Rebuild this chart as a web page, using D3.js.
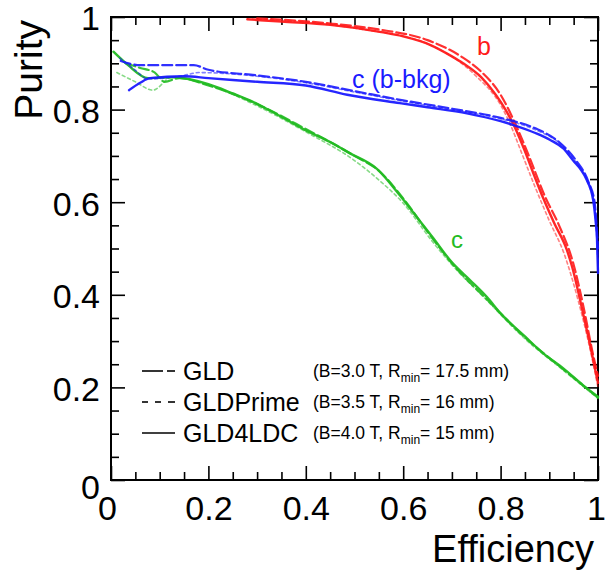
<!DOCTYPE html>
<html>
<head>
<meta charset="UTF-8">
<title>Purity vs Efficiency</title>
<style>
  body { margin: 0; background: #fff; }
  svg { display: block; font-family: "Liberation Sans", Arial, sans-serif; }
  .frame { fill: none; stroke: #000; stroke-width: 2; }
  .axis path { display: none; }
  .axis line { stroke: #000; stroke-width: 1.6; }
  .axis text { font-size: 34px; fill: #000; }
  .curve { fill: none; stroke-linejoin: round; stroke-linecap: round; }
</style>
</head>
<body>
<svg width="605" height="572"></svg>
<script src="https://d3js.org/d3.v7.min.js"></script>
<script>
// efficiency / purity pairs
const bGLD4LDC = [[0.28,0.995],[0.35,0.99],[0.45,0.983],[0.552,0.968],[0.6,0.958],[0.655,0.94],[0.7,0.915],[0.723,0.9],[0.76,0.87],[0.79,0.832],[0.81,0.8],[0.825,0.771],[0.85,0.71],[0.87,0.655],[0.887,0.61],[0.91,0.555],[0.936,0.497],[0.947,0.46],[0.963,0.39],[0.98,0.31],[0.994,0.24],[1.0,0.21]];
const bGLD = [[0.3,0.997],[0.45,0.986],[0.55,0.973],[0.65,0.95],[0.72,0.914],[0.76,0.882],[0.8,0.832],[0.83,0.77],[0.86,0.695],[0.89,0.615],[0.92,0.55],[0.95,0.465],[0.97,0.375],[0.99,0.27],[1.0,0.225]];
const bGLDPrime = [[0.29,0.996],[0.5,0.976],[0.65,0.942],[0.75,0.872],[0.8,0.81],[0.82,0.768],[0.84,0.715],[0.87,0.635],[0.9,0.56],[0.93,0.49],[0.96,0.385],[0.98,0.3],[1.0,0.2]];

const cbGLD4LDC = [[0.037,0.842],[0.06,0.858],[0.08,0.868],[0.15,0.872],[0.2,0.868],[0.3,0.86],[0.4,0.852],[0.485,0.832],[0.593,0.814],[0.65,0.805],[0.731,0.792],[0.8,0.775],[0.825,0.767],[0.87,0.75],[0.901,0.735],[0.93,0.715],[0.949,0.69],[0.965,0.67],[0.977,0.648],[0.99,0.605],[0.995,0.56],[0.998,0.52],[1.0,0.447]];
const cbGLD = [[0.02,0.905],[0.06,0.896],[0.17,0.896],[0.2,0.886],[0.3,0.874],[0.4,0.86],[0.5,0.84],[0.6,0.82],[0.7,0.802],[0.8,0.782],[0.87,0.76],[0.92,0.73],[0.955,0.69],[0.98,0.645],[0.993,0.6],[1.0,0.5]];
const cbGLDPrime = [[0.018,0.911],[0.05,0.885],[0.076,0.866],[0.15,0.874],[0.18,0.88],[0.3,0.872],[0.4,0.858],[0.5,0.838],[0.6,0.818],[0.7,0.8],[0.8,0.78],[0.87,0.757],[0.92,0.728],[0.955,0.686],[0.98,0.64],[0.993,0.59],[1.0,0.47]];

const cGLD4LDC = [[0.005,0.925],[0.035,0.896],[0.076,0.868],[0.13,0.87],[0.2,0.855],[0.25,0.835],[0.285,0.82],[0.34,0.79],[0.4,0.755],[0.45,0.73],[0.49,0.706],[0.546,0.672],[0.593,0.615],[0.63,0.565],[0.66,0.525],[0.7,0.47],[0.737,0.432],[0.772,0.395],[0.8,0.36],[0.85,0.31],[0.887,0.274],[0.93,0.24],[0.969,0.205],[1.0,0.18]];
const cGLD = [[0.03,0.9],[0.06,0.89],[0.09,0.88],[0.11,0.86],[0.14,0.868],[0.2,0.852],[0.3,0.812],[0.4,0.758],[0.5,0.7],[0.55,0.668],[0.6,0.608],[0.66,0.522],[0.7,0.468],[0.77,0.392],[0.85,0.308],[0.93,0.238],[1.0,0.178]];
const cGLDPrime = [[0.012,0.88],[0.05,0.86],[0.086,0.842],[0.125,0.87],[0.2,0.853],[0.3,0.808],[0.4,0.752],[0.5,0.69],[0.55,0.648],[0.6,0.598],[0.66,0.515],[0.7,0.465],[0.77,0.39],[0.85,0.305],[0.93,0.236],[1.0,0.176]];

const xTicks = [0, 0.2, 0.4, 0.6, 0.8, 1];
const yTicks = [0, 0.2, 0.4, 0.6, 0.8, 1];
const detectors = ["GLD", "GLDPrime", "GLD4LDC"];
const detParams = [["B=3.0 T, R", "= 17.5 mm)"], ["B=3.5 T, R", "= 16 mm)"], ["B=4.0 T, R", "= 15 mm)"]];

const svg = d3.select("svg");
const mLeft = 111, mRight = 598, mTop = 17, mBottom = 480;
const x = d3.scaleLinear().domain([0, 1]).range([mLeft, mRight]);
const y = d3.scaleLinear().domain([0, 1]).range([mBottom, mTop]);

const minor = d3.range(0, 1.0001, 0.05).filter(v => Math.abs(v * 5 - Math.round(v * 5)) > 1e-6);
const fmt = d => (d === 0 || d === 1) ? String(d) : d.toFixed(1);

// inward ticks on all four sides
function ticks(axisFn, scale, pos, vals, size, labels) {
  const a = axisFn(scale).tickValues(vals).tickSizeInner(-size).tickSizeOuter(0)
    .tickFormat(labels ? fmt : "");
  return svg.append("g").attr("class", "axis").attr("transform", pos).call(a);
}
const bx = ticks(d3.axisBottom, x, `translate(0,${mBottom})`, xTicks, 14, true);
bx.selectAll("text").attr("dy", null).attr("y", 40);
bx.selectAll(".tick").filter(d => d === 0).select("text").attr("x", -4);
bx.selectAll(".tick").filter(d => d === 1).select("text").attr("x", -2);
ticks(d3.axisBottom, x, `translate(0,${mBottom})`, minor, 8, false);
ticks(d3.axisTop, x, `translate(0,${mTop})`, xTicks, 14, false);
ticks(d3.axisTop, x, `translate(0,${mTop})`, minor, 8, false);
const ly = ticks(d3.axisLeft, y, `translate(${mLeft},0)`, yTicks, 14, true);
ly.selectAll("text").attr("x", -11).attr("dy", "0.38em");
ly.selectAll(".tick").filter(d => d === 0).select("text").attr("dy", "0.55em");
ticks(d3.axisLeft, y, `translate(${mLeft},0)`, minor, 8, false);
ticks(d3.axisRight, y, `translate(${mRight},0)`, yTicks, 14, false);
ticks(d3.axisRight, y, `translate(${mRight},0)`, minor, 8, false);

svg.append("rect").attr("class", "frame")
  .attr("x", mLeft).attr("y", mTop).attr("width", mRight - mLeft).attr("height", mBottom - mTop);

// curves
const line = d3.line().x(d => x(d[0])).y(d => y(d[1])).curve(d3.curveMonotoneX);
const styles = {
  GLD: { dash: "10,4", width: 2.2, op: 0.9 },
  GLDPrime: { dash: "3,3", width: 1.6, op: 0.55 },
  GLD4LDC: { dash: null, width: 2.4, op: 0.95 }
};
const series = [
  { data: bGLDPrime, det: "GLDPrime", color: "#ff1a1a" },
  { data: bGLD, det: "GLD", color: "#ff1a1a" },
  { data: bGLD4LDC, det: "GLD4LDC", color: "#ff1a1a" },
  { data: cGLDPrime, det: "GLDPrime", color: "#22bb22" },
  { data: cGLD, det: "GLD", color: "#22bb22" },
  { data: cGLD4LDC, det: "GLD4LDC", color: "#22bb22" },
  { data: cbGLDPrime, det: "GLDPrime", color: "#1a1aff" },
  { data: cbGLD, det: "GLD", color: "#1a1aff" },
  { data: cbGLD4LDC, det: "GLD4LDC", color: "#1a1aff" }
];
svg.selectAll("path.curve").data(series).enter().append("path")
  .attr("class", "curve")
  .attr("d", d => line(d.data))
  .attr("stroke", d => d.color)
  .attr("stroke-width", d => styles[d.det].width)
  .attr("stroke-opacity", d => styles[d.det].op)
  .attr("stroke-dasharray", d => styles[d.det].dash);

// curve labels
svg.append("text").attr("x", 477).attr("y", 55).attr("font-size", 25).attr("fill", "#ff1a1a").text("b");
svg.append("text").attr("x", 352).attr("y", 88).attr("font-size", 25).attr("fill", "#1a1aff").text("c (b-bkg)");
svg.append("text").attr("x", 451).attr("y", 248).attr("font-size", 24).attr("fill", "#22bb22").text("c");

// axis titles
svg.append("text").attr("x", 594).attr("y", 562).attr("text-anchor", "end")
  .attr("font-size", 38).text("Efficiency");
svg.append("text").attr("transform", "translate(42,20) rotate(-90)").attr("text-anchor", "end")
  .attr("font-size", 39).text("Purity");

// legend
const legendLines = [[[142, 163], [167, 175]], [[142, 148], [155, 161], [168, 175]], [[142, 175]]];
detectors.forEach((name, i) => {
  const yy = 371 + i * 31;
  legendLines[i].forEach(seg => {
    svg.append("line").attr("x1", seg[0]).attr("x2", seg[1]).attr("y1", yy).attr("y2", yy)
      .attr("stroke", "#000").attr("stroke-width", 1.6);
  });
  svg.append("text").attr("x", 183).attr("y", yy + 9).attr("font-size", 25).text(name);
  const t = svg.append("text").attr("x", 313).attr("y", yy + 6).attr("font-size", 17.5);
  t.append("tspan").text("(" + detParams[i][0]);
  t.append("tspan").attr("font-size", 12).attr("dy", 5).text("min");
  t.append("tspan").attr("dy", -5).text(detParams[i][1]);
});
</script>
</body>
</html>
